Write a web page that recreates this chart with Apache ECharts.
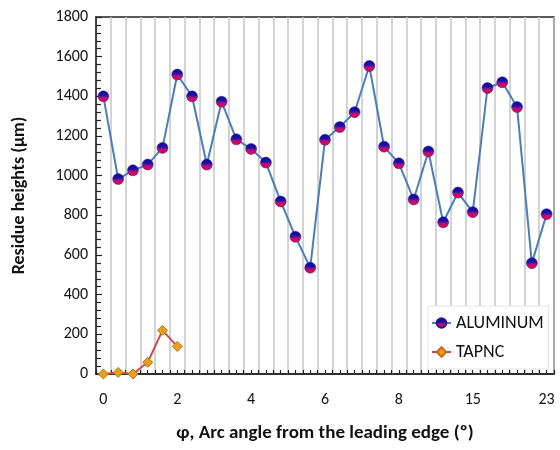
<!DOCTYPE html>
<html>
<head>
<meta charset="utf-8">
<script src="https://cdn.jsdelivr.net/npm/echarts@6/dist/echarts.min.js"></script>
<style>html,body{margin:0;padding:0;background:#fff}#c{width:560px;height:450px}</style>
</head>
<body>
<div id="c"></div>
<script>
var tickLabels = ['0', '2', '4', '6', '8', '15', '23'];
var labelEvery = 5;
var aluminum = [1400, 983, 1027, 1056, 1140, 1510, 1400, 1056, 1373, 1183, 1135, 1066, 870, 692, 536,
                1181, 1245, 1320, 1553, 1146, 1062, 880, 1122, 765, 915, 816, 1442, 1471, 1346, 559, 806];
var tapnc = [0, 8, 0, 59, 220, 139];
var categories = aluminum.map(function (v, i) { return String(i); });

var font = 'Carlito, Lato, "Liberation Sans", sans-serif';
var chart = echarts.init(document.getElementById('c'), null, {renderer: 'canvas'});
chart.setOption({
  animation: false,
  grid: {left: 96, top: 17, right: 6, bottom: 76, show: true, borderColor: '#222', borderWidth: 1.5, backgroundColor: 'transparent'},
  legend: {
    orient: 'vertical', left: 428, top: 306, itemWidth: 19, itemHeight: 12, itemGap: 11,
    backgroundColor: '#fff', borderColor: '#e3e3e3', borderWidth: 1, padding: [8, 5, 8, 3],
    textStyle: {fontFamily: font, fontSize: 18, color: '#111'},
    data: ['ALUMINUM', 'TAPNC']
  },
  xAxis: [{
    type: 'category', data: categories, boundaryGap: true,
    axisLine: {show: true, lineStyle: {color: '#222', width: 1.5}},
    axisTick: {show: false},
    axisLabel: {interval: labelEvery - 1, margin: 18, fontFamily: font, fontSize: 16, color: '#111',
      formatter: function (v, i) { return tickLabels[Math.round(i / labelEvery)] || ''; }},
    splitLine: {show: true, interval: 0, lineStyle: {color: '#c4c4c4', width: 1.5}},
    name: 'φ, Arc angle from the leading edge (º)', nameLocation: 'middle', nameGap: 50,
    nameTextStyle: {fontFamily: font, fontSize: 19, fontWeight: 'bold', color: '#111'}
  }, {
    type: 'value', position: 'bottom', min: 0, max: aluminum.length * 2, interval: 1,
    axisLine: {show: false}, axisLabel: {show: false}, splitLine: {show: false},
    axisTick: {show: true, inside: true, length: 4, lineStyle: {color: '#222', width: 1.2}}
  }],
  yAxis: {
    type: 'value', min: 0, max: 1800, interval: 200,
    axisLine: {show: true, lineStyle: {color: '#222', width: 1.5}},
    axisTick: {show: true, inside: true, length: 6, lineStyle: {color: '#222', width: 1.2}},
    minorTick: {show: true, splitNumber: 5, length: 5, lineStyle: {color: '#222', width: 1.2}},
    splitLine: {show: false},
    axisLabel: {margin: 8, fontFamily: font, fontSize: 16, color: '#111',
      formatter: function (v) { return String(v); }},
    name: 'Residue heights (μm)', nameLocation: 'middle', nameGap: 68,
    nameTextStyle: {fontFamily: font, fontSize: 18, fontWeight: 'bold', color: '#111'}
  },
  series: [{
    name: 'ALUMINUM', type: 'line', data: aluminum, xAxisIndex: 0,
    symbol: 'circle', symbolSize: 11, showSymbol: true, showAllSymbol: true,
    lineStyle: {color: '#4a7ebb', width: 2},
    itemStyle: {
      color: new echarts.graphic.LinearGradient(0, 0, 0, 1, [
        {offset: 0, color: '#0808a0'}, {offset: 0.4, color: '#2010a8'},
        {offset: 0.62, color: '#b0107a'}, {offset: 1, color: '#ff0038'}
      ]),
      borderColor: '#2a1a8a', borderWidth: 0.5
    },
    z: 3
  }, {
    name: 'TAPNC', type: 'line', data: tapnc, xAxisIndex: 0,
    symbol: 'diamond', symbolSize: 10, showSymbol: true, showAllSymbol: true,
    lineStyle: {color: '#c0504d', width: 2},
    itemStyle: {color: '#e6a020', borderColor: '#c86a10', borderWidth: 1},
    z: 3
  }]
});
</script>
</body>
</html>
